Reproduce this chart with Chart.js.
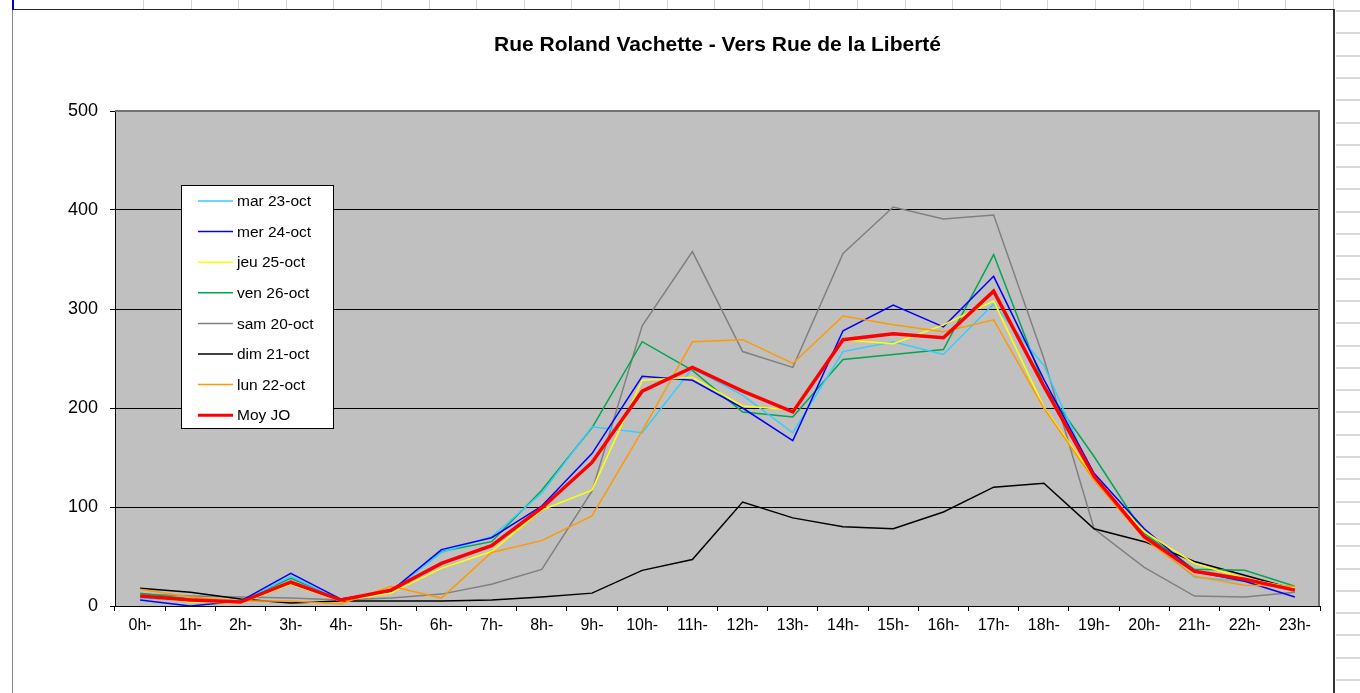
<!DOCTYPE html>
<html>
<head>
<meta charset="utf-8">
<title>Rue Roland Vachette - Vers Rue de la Liberté</title>
<script src="https://cdn.jsdelivr.net/npm/chart.js@4.4.0/dist/chart.umd.min.js"></script>
<style>
html, body { margin: 0; padding: 0; width: 1360px; height: 693px; overflow: hidden; background: #fff; }
.vl { position: absolute; top: 0; width: 1px; height: 9px; background: #d4d4d4; }
.hl { position: absolute; left: 1336px; width: 24px; height: 2px; background: #d8d8d8; }
#box { position: absolute; left: 12px; top: 9px; width: 1320px; height: 700px; background: #fff;
       border-top: 1px solid #222; border-right: 2px solid #333; border-left: 1px solid #888; }
#blue { position: absolute; left: 12px; top: 0; width: 2px; height: 10px; background: #0000cc; }
#mycanvas { position: absolute; left: 0; top: 0; }
</style>
</head>
<body>
<div id="box"></div>
<div id="blue"></div>
<canvas id="mycanvas" width="1360" height="693"></canvas>
<script>
var hours = ['0h-','1h-','2h-','3h-','4h-','5h-','6h-','7h-','8h-','9h-','10h-','11h-',
             '12h-','13h-','14h-','15h-','16h-','17h-','18h-','19h-','20h-','21h-','22h-','23h-'];

var mar_v = [8, 5, 4, 30, 6, 15, 54, 70, 114, 181, 175, 240, 213, 175, 257, 267, 254, 305, 243, 129, 72, 29, 25, 19];
var mer_v = [6, 0, 5, 33, 7, 15, 57, 69, 101, 154, 232, 228, 200, 167, 278, 304, 282, 333, 229, 134, 78, 35, 25, 9];
var jeu_v = [10, 4, 3, 22, 5, 13, 38, 55, 97, 117, 228, 231, 202, 198, 269, 265, 284, 308, 201, 129, 75, 43, 28, 18];
var ven_v = [13, 7, 5, 28, 7, 15, 55, 65, 117, 180, 267, 238, 196, 191, 249, 254, 259, 355, 223, 151, 73, 37, 36, 20];
var sam_v = [12, 10, 9, 8, 6, 8, 12, 22, 37, 116, 283, 358, 257, 241, 356, 403, 391, 395, 250, 78, 39, 10, 9, 14];
var dim_v = [18, 14, 7, 3, 5, 5, 5, 6, 9, 13, 36, 47, 105, 89, 80, 78, 95, 120, 124, 78, 65, 45, 31, 17];
var lun_v = [17, 9, 5, 5, 2, 20, 8, 54, 66, 91, 177, 267, 269, 245, 293, 284, 277, 289, 200, 127, 68, 30, 21, 20];
var moy_v = [10, 6, 4, 24, 6, 16, 43, 61, 99, 145, 217, 241, 217, 196, 269, 275, 271, 318, 222, 131, 70, 35, 27, 16];

var yTicks = [0, 100, 200, 300, 400, 500];
var titre = 'Rue Roland Vachette - Vers Rue de la Liberté';

// spreadsheet cells around the chart
for (var i = 0; i < 26; i++) {
	var d = document.createElement('div');
	d.className = 'vl';
	d.style.left = Math.round(143 + i * 47.6) + 'px';
	document.body.appendChild(d);
}
for (var j = 0; j < 31; j++) {
	var h = document.createElement('div');
	h.className = 'hl';
	h.style.top = Math.round(10 + j * 22.3) + 'px';
	document.body.appendChild(h);
}

var FONT = "'Liberation Sans', Arial, sans-serif";

var plotBg = {
	id: 'plotBg',
	beforeDraw: function(chart) {
		var a = chart.chartArea, ctx = chart.ctx;
		ctx.save();
		ctx.fillStyle = '#c0c0c0';
		ctx.fillRect(a.left, a.top, a.right - a.left, a.bottom - a.top);
		// title, centred over the plot area
		ctx.fillStyle = '#000';
		ctx.font = 'bold 21px ' + FONT;
		ctx.textAlign = 'center';
		ctx.textBaseline = 'middle';
		ctx.fillText(titre, (a.left + a.right) / 2, 45);
		ctx.restore();
	},
	beforeDatasetsDraw: function(chart) {
		var a = chart.chartArea, ctx = chart.ctx;
		ctx.save();
		ctx.strokeStyle = '#707070';
		ctx.lineWidth = 2;
		ctx.beginPath();
		ctx.moveTo(a.left, a.top);
		ctx.lineTo(a.right - 1, a.top);
		ctx.lineTo(a.right - 1, a.bottom);
		ctx.stroke();
		ctx.restore();
	}
};

var boxLegend = {
	id: 'boxLegend',
	afterDraw: function(chart) {
		var ctx = chart.ctx, a = chart.chartArea;
		var x0 = a.left + 66, y0 = a.top + 74;
		ctx.save();
		ctx.fillStyle = '#fff';
		ctx.fillRect(x0, y0, 152, 243);
		ctx.strokeStyle = '#000';
		ctx.lineWidth = 1;
		ctx.strokeRect(x0 + 0.5, y0 + 0.5, 152, 243);
		ctx.font = '15.5px ' + FONT;
		ctx.textBaseline = 'middle';
		ctx.textAlign = 'left';
		chart.data.datasets.forEach(function(ds, k) {
			var y = y0 + 16 + k * 30.6;
			ctx.strokeStyle = ds.borderColor;
			ctx.lineWidth = ds.borderWidth > 2 ? 3 : 1.5;
			ctx.beginPath();
			ctx.moveTo(x0 + 17, y);
			ctx.lineTo(x0 + 52, y);
			ctx.stroke();
			ctx.fillStyle = '#000';
			ctx.fillText(ds.label, x0 + 56, y + 1);
		});
		ctx.restore();
	}
};

function serie(label, color, values, width, order) {
	return {
		label: label,
		data: values,
		borderColor: color,
		backgroundColor: color,
		borderWidth: width,
		pointRadius: 0,
		tension: 0,
		fill: false,
		order: order
	};
}

var chartdata = {
	labels: hours,
	datasets: [
		serie('mar 23-oct', '#33ccff', mar_v, 1.5, 4),
		serie('mer 24-oct', '#0000ff', mer_v, 1.5, 3),
		serie('jeu 25-oct', '#ffff00', jeu_v, 1.5, 2),
		serie('ven 26-oct', '#00a651', ven_v, 1.5, 5),
		serie('sam 20-oct', '#808080', sam_v, 1.5, 7),
		serie('dim 21-oct', '#000000', dim_v, 1.5, 6),
		serie('lun 22-oct', '#ff9900', lun_v, 1.5, 1),
		serie('Moy JO', '#ff0000', moy_v, 3.5, 0)
	]
};

var ctx = document.getElementById('mycanvas');

var LineGraph = new Chart(ctx, {
	type: 'line',
	data: chartdata,
	plugins: [plotBg, boxLegend],
	options: {
		responsive: false,
		animation: false,
		layout: { padding: { left: 0, right: 40, top: 111, bottom: 0 } },
		plugins: {
			legend: { display: false },
			tooltip: { enabled: false },
			title: { display: false }
		},
		scales: {
			x: {
				offset: true,
				grid: { offset: true, drawOnChartArea: false, color: '#000', tickLength: 5 },
				border: { color: '#000' },
				ticks: { color: '#000', font: { family: FONT, size: 16 }, padding: 5, maxRotation: 0, autoSkip: false },
				afterFit: function(s) { s.height = 87; }
			},
			y: {
				min: 0,
				max: 500,
				afterBuildTicks: function(s) { s.ticks = yTicks.map(function(v) { return { value: v }; }); },
				grid: { color: '#000', tickLength: 5 },
				border: { color: '#000' },
				ticks: { color: '#000', font: { family: FONT, size: 18 }, padding: 12 },
				afterFit: function(s) { s.width = 115; }
			}
		}
	}
});
</script>
</body>
</html>
